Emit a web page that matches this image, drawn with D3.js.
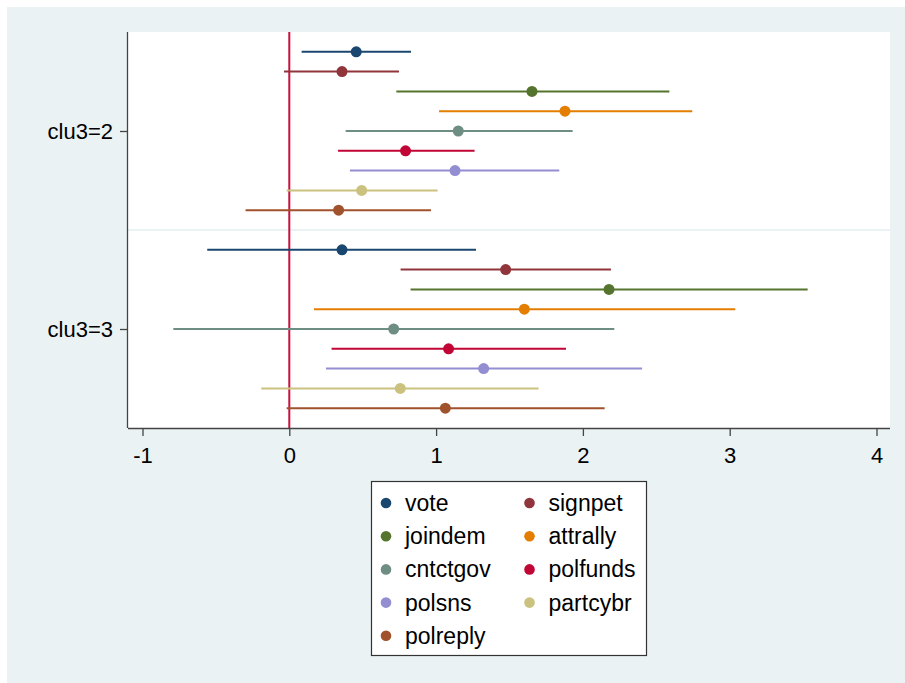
<!DOCTYPE html>
<html>
<head>
<meta charset="utf-8">
<script src="https://cdn.jsdelivr.net/npm/d3@7"></script>
<style>
  body { margin: 0; background: #ffffff; }
  text { font-family: Arial, "Liberation Sans", sans-serif; }
</style>
</head>
<body>
<svg id="chart" width="905" height="683"></svg>
<script>
// ---- data ----
const groups = ["clu3=2", "clu3=3"];
const series = ["vote", "signpet", "joindem", "attrally", "cntctgov", "polfunds", "polsns", "partcybr", "polreply"];
const colors = ["#1a476f", "#90353b", "#55752f", "#e37e00", "#6e8e84", "#c10534", "#938dd2", "#cac27e", "#a0522d"];
// estimates per series (group clu3=2, clu3=3)
const estG2 = [0.456, 0.359, 1.653, 1.878, 1.151, 0.792, 1.129, 0.493, 0.336];
const lowG2 = [0.084, -0.036, 0.729, 1.020, 0.384, 0.332, 0.413, -0.018, -0.298];
const highG2 = [0.829, 0.747, 2.589, 2.745, 1.930, 1.262, 1.839, 1.010, 0.965];
const estG3 = [0.359, 1.474, 2.178, 1.601, 0.711, 1.085, 1.324, 0.756, 1.063];
const lowG3 = [-0.559, 0.758, 0.826, 0.168, -0.790, 0.288, 0.250, -0.191, -0.018];
const highG3 = [1.272, 2.191, 3.531, 3.038, 2.214, 1.885, 2.403, 1.698, 2.148];
const xTicks = [-1, 0, 1, 2, 3, 4];

const svg = d3.select("#chart");
const W = 905, H = 683;
const plot = { left: 128, right: 890, top: 32, bottom: 428 };
const FONT = "Arial, 'Liberation Sans', sans-serif";

// background
svg.append("rect").attr("x", 7).attr("y", 7).attr("width", W - 7).attr("height", H - 7).attr("fill", "#eaf2f3");
svg.append("rect").attr("x", plot.left).attr("y", plot.top)
  .attr("width", plot.right - plot.left).attr("height", plot.bottom - plot.top).attr("fill", "#ffffff");

const x = d3.scaleLinear().domain([-1, 4]).range([142.5, 876.5]);
const nPer = series.length;
const totalSlots = nPer * 2 + 2; // positions 0..20
const y = d3.scaleLinear().domain([0, totalSlots]).range([plot.top, plot.bottom]);

const rows = [];
const sets = [[estG2, lowG2, highG2], [estG3, lowG3, highG3]];
sets.forEach((s, gi) => {
  series.forEach((name, i) => {
    rows.push({ group: groups[gi], name, color: colors[i], est: s[0][i], lo: s[1][i], hi: s[2][i], pos: gi * (nPer + 1) + i + 1 });
  });
});

// separator between groups
svg.append("line").attr("x1", plot.left).attr("x2", plot.right)
  .attr("y1", y(nPer + 1)).attr("y2", y(nPer + 1))
  .attr("stroke", "#eaf2f3").attr("stroke-width", 2);

// reference line at 0
svg.append("line").attr("x1", x(0)).attr("x2", x(0)).attr("y1", plot.top).attr("y2", plot.bottom)
  .attr("stroke", "#c8103c").attr("stroke-width", 2);

// CI lines
svg.append("g").selectAll("line").data(rows).join("line")
  .attr("x1", d => x(d.lo)).attr("x2", d => x(d.hi))
  .attr("y1", d => y(d.pos)).attr("y2", d => y(d.pos))
  .attr("stroke", d => d.color).attr("stroke-width", 2);

// points
svg.append("g").selectAll("circle").data(rows).join("circle")
  .attr("cx", d => x(d.est)).attr("cy", d => y(d.pos)).attr("r", 5.5)
  .attr("fill", d => d.color);

// x axis
const xAxis = d3.axisBottom(x).tickValues(xTicks).tickFormat(d => String(d)).tickSize(8).tickSizeOuter(0);
const gx = svg.append("g").attr("transform", `translate(0,${plot.bottom})`).call(xAxis);
gx.select(".domain").attr("d", `M${plot.left},0.5H${plot.right}`).attr("stroke", "#444").attr("stroke-width", 1.3);
gx.selectAll(".tick line").attr("stroke", "#444").attr("stroke-width", 1.3);
gx.selectAll(".tick text").attr("font-size", 22).attr("fill", "#000").attr("y", 35).attr("dy", 0)
  .style("font-family", FONT);

// y axis
const yPos = groups.map((g, gi) => gi * (nPer + 1) + Math.ceil(nPer / 2));
const yAxis = d3.axisLeft(y).tickValues(yPos).tickFormat((d, i) => groups[i]).tickSize(8).tickSizeOuter(0);
const gy = svg.append("g").attr("transform", `translate(${plot.left},0)`).call(yAxis);
gy.select(".domain").attr("d", `M-0.5,${plot.top}V${plot.bottom}`).attr("stroke", "#444").attr("stroke-width", 1.3);
gy.selectAll(".tick line").attr("stroke", "#444").attr("stroke-width", 1.3);
gy.selectAll(".tick text").attr("font-size", 22).attr("fill", "#000").attr("x", -15).attr("dy", "0.35em")
  .style("font-family", FONT);

// legend
const lg = svg.append("g");
lg.append("rect").attr("x", 371.5).attr("y", 481.5).attr("width", 275).attr("height", 174)
  .attr("fill", "#ffffff").attr("stroke", "#333").attr("stroke-width", 1.2);
series.forEach((name, i) => {
  const col = i % 2, row = Math.floor(i / 2);
  const mx = col === 0 ? 386 : 529.5;
  const my = 503 + row * 33.2;
  lg.append("circle").attr("cx", mx).attr("cy", my).attr("r", 5.3).attr("fill", colors[i]);
  lg.append("text").attr("x", mx + 19).attr("y", my).attr("dy", "0.35em")
    .attr("font-size", 23).attr("fill", "#000").style("font-family", FONT).text(name);
});
</script>
</body>
</html>
